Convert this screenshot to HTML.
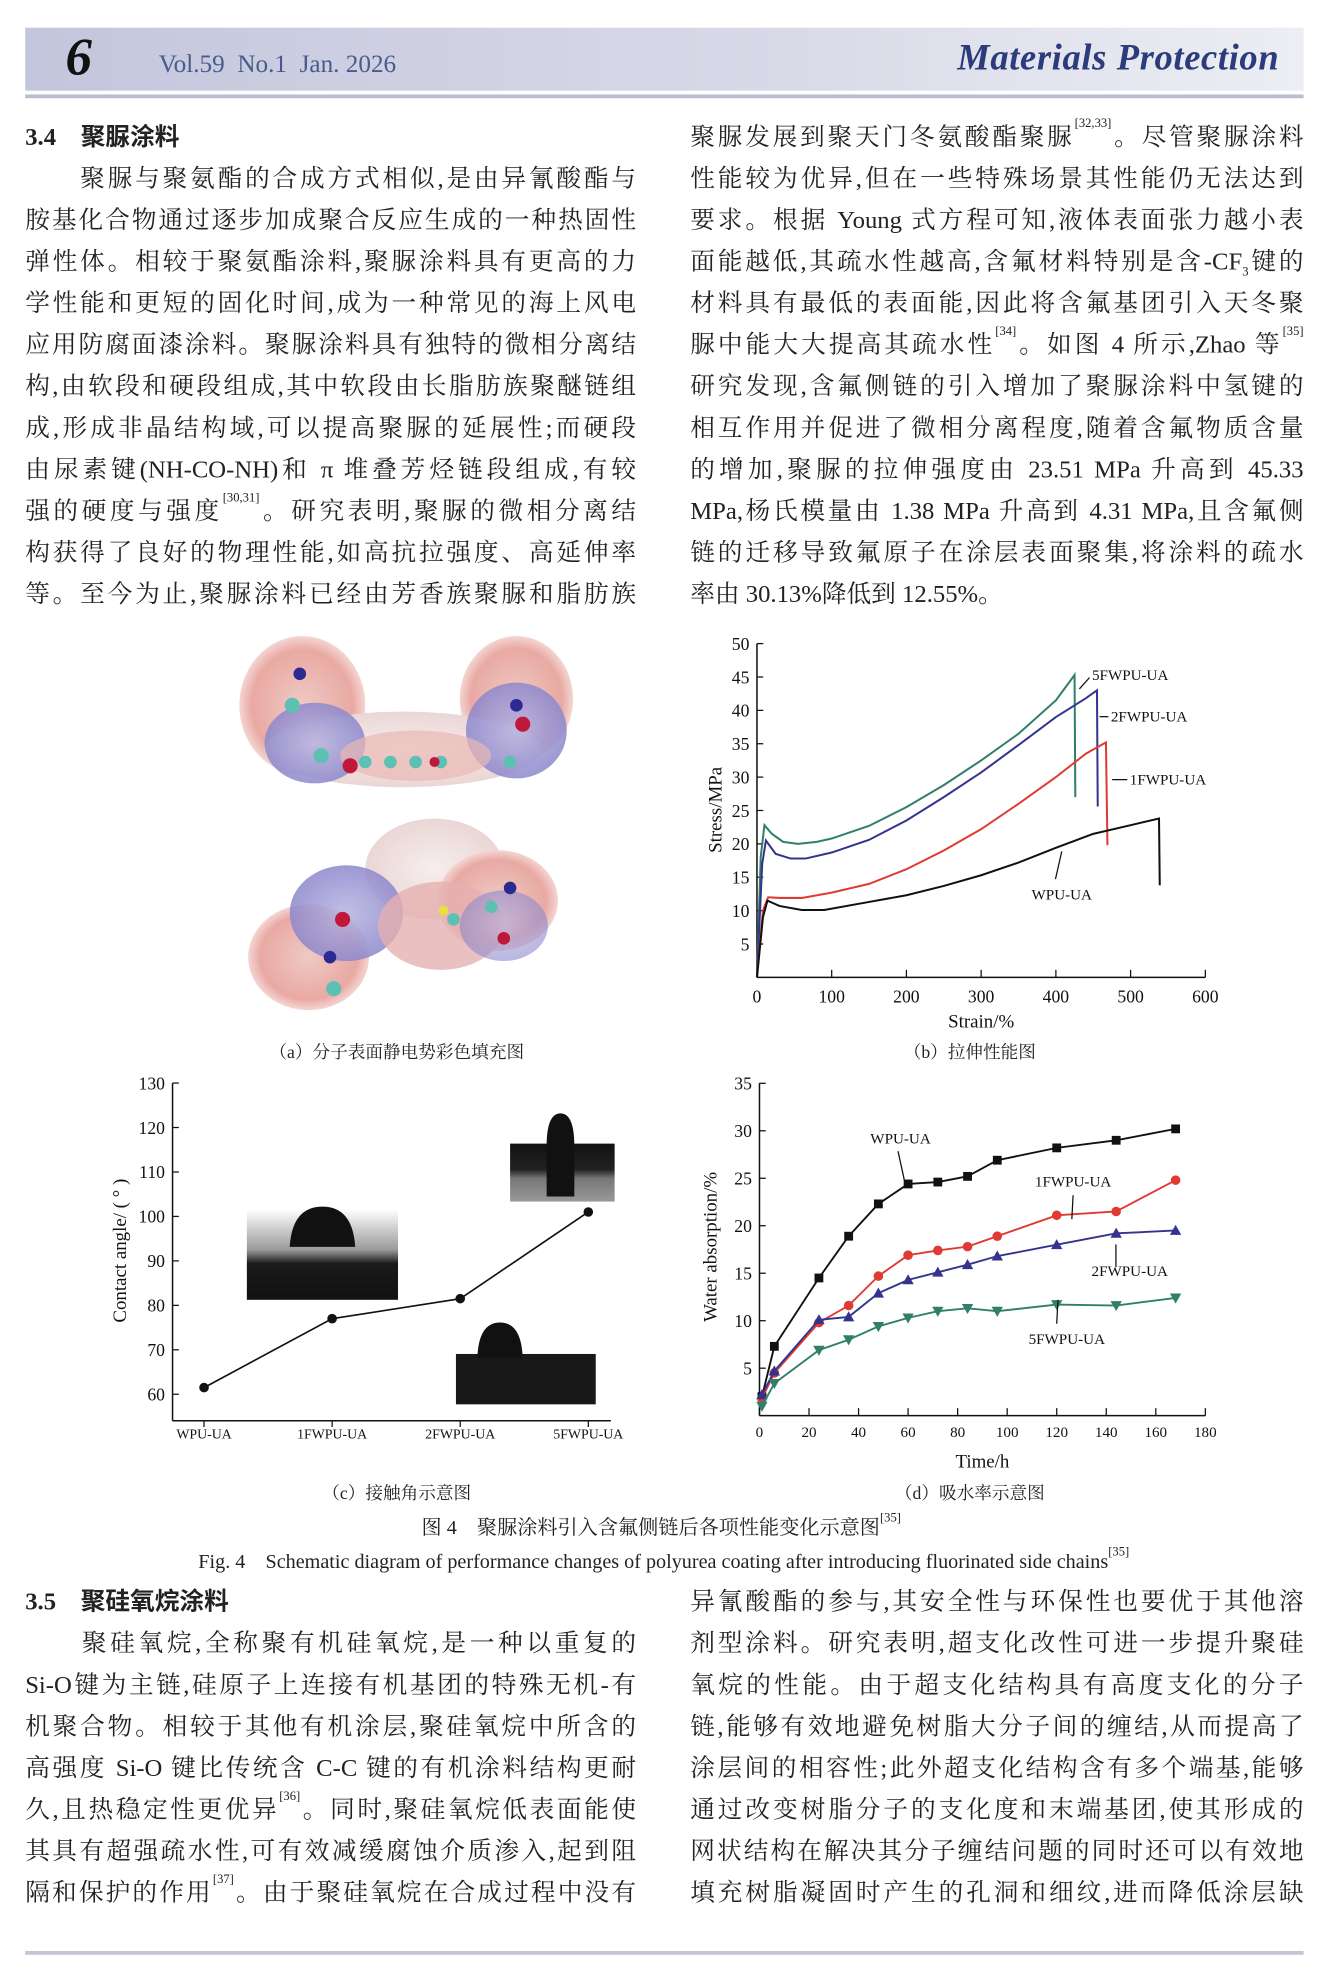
<!DOCTYPE html>
<html><head><meta charset="utf-8">
<style>
html,body{margin:0;padding:0;background:#fff;}
body{width:1325px;height:1970px;overflow:hidden;position:relative;}
#wrap{position:absolute;left:0;top:0;width:1052px;height:1564px;transform:scale(1.2595);transform-origin:0 0;font-family:"Liberation Serif","Noto Serif CJK SC",serif;color:#222;}
.col{position:absolute;font-size:19.6px;line-height:33px;}
.col div{white-space:nowrap;text-align:justify;text-align-last:justify;height:33px;overflow:visible;}
.col div.end{text-align-last:left;}
.h{font-weight:bold;font-family:"Liberation Serif","Noto Sans CJK SC",serif;}
sup{font-size:10px;line-height:0;vertical-align:top;position:relative;top:6px;}
.cap{position:absolute;font-size:14px;white-space:nowrap;transform:translateX(-50%);}
svg text{font-family:"Liberation Serif","Noto Serif CJK SC",serif;}
</style></head><body>
<div id="wrap">
<div style="position:absolute;left:20px;top:22px;width:1015px;height:50px;background:linear-gradient(90deg,#c3c6dc,#d9dae8 60%,#eceef4);"></div>
<div style="position:absolute;left:20px;top:75px;width:1015px;height:3px;background:#b9bcd2;"></div>
<div style="position:absolute;left:52px;top:22px;font-size:42px;font-weight:bold;font-style:italic;color:#111;">6</div>
<div style="position:absolute;left:126px;top:40px;font-size:20px;color:#4a5a8c;">Vol.59&nbsp; No.1&nbsp; Jan. 2026</div>
<div style="position:absolute;left:760px;top:30px;font-size:29px;font-style:italic;font-weight:bold;color:#2b3b7c;letter-spacing:0.5px;">Materials Protection</div>

<div class="col" style="left:20px;top:93px;width:485px;">
<div class="h end">3.4　聚脲涂料</div>
<div>　　聚脲与聚氨酯的合成方式相似,是由异氰酸酯与</div>
<div>胺基化合物通过逐步加成聚合反应生成的一种热固性</div>
<div>弹性体。相较于聚氨酯涂料,聚脲涂料具有更高的力</div>
<div>学性能和更短的固化时间,成为一种常见的海上风电</div>
<div>应用防腐面漆涂料。聚脲涂料具有独特的微相分离结</div>
<div>构,由软段和硬段组成,其中软段由长脂肪族聚醚链组</div>
<div>成,形成非晶结构域,可以提高聚脲的延展性;而硬段</div>
<div>由尿素键(NH-CO-NH)和 π 堆叠芳烃链段组成,有较</div>
<div>强的硬度与强度<sup>[30,31]</sup>。研究表明,聚脲的微相分离结</div>
<div>构获得了良好的物理性能,如高抗拉强度、高延伸率</div>
<div>等。至今为止,聚脲涂料已经由芳香族聚脲和脂肪族</div>
</div>
<div class="col" style="left:548px;top:93px;width:487px;">
<div>聚脲发展到聚天门冬氨酸酯聚脲<sup>[32,33]</sup>。尽管聚脲涂料</div>
<div>性能较为优异,但在一些特殊场景其性能仍无法达到</div>
<div>要求。根据 Young 式方程可知,液体表面张力越小表</div>
<div>面能越低,其疏水性越高,含氟材料特别是含-CF<sub style="font-size:10px;line-height:0">3</sub>键的</div>
<div>材料具有最低的表面能,因此将含氟基团引入天冬聚</div>
<div>脲中能大大提高其疏水性<sup>[34]</sup>。如图 4 所示,Zhao 等<sup>[35]</sup></div>
<div>研究发现,含氟侧链的引入增加了聚脲涂料中氢键的</div>
<div>相互作用并促进了微相分离程度,随着含氟物质含量</div>
<div>的增加,聚脲的拉伸强度由 23.51 MPa 升高到 45.33</div>
<div>MPa,杨氏模量由 1.38 MPa 升高到 4.31 MPa,且含氟侧</div>
<div>链的迁移导致氟原子在涂层表面聚集,将涂料的疏水</div>
<div class="end">率由 30.13%降低到 12.55%。</div>
</div>

<div class="col" style="left:20px;top:1256px;width:485px;">
<div class="h end">3.5　聚硅氧烷涂料</div>
<div>　　聚硅氧烷,全称聚有机硅氧烷,是一种以重复的</div>
<div>Si-O键为主链,硅原子上连接有机基团的特殊无机-有</div>
<div>机聚合物。相较于其他有机涂层,聚硅氧烷中所含的</div>
<div>高强度 Si-O 键比传统含 C-C 键的有机涂料结构更耐</div>
<div>久,且热稳定性更优异<sup>[36]</sup>。同时,聚硅氧烷低表面能使</div>
<div>其具有超强疏水性,可有效减缓腐蚀介质渗入,起到阻</div>
<div>隔和保护的作用<sup>[37]</sup>。由于聚硅氧烷在合成过程中没有</div>
</div>
<div class="col" style="left:548px;top:1256px;width:487px;">
<div>异氰酸酯的参与,其安全性与环保性也要优于其他溶</div>
<div>剂型涂料。研究表明,超支化改性可进一步提升聚硅</div>
<div>氧烷的性能。由于超支化结构具有高度支化的分子</div>
<div>链,能够有效地避免树脂大分子间的缠结,从而提高了</div>
<div>涂层间的相容性;此外超支化结构含有多个端基,能够</div>
<div>通过改变树脂分子的支化度和末端基团,使其形成的</div>
<div>网状结构在解决其分子缠结问题的同时还可以有效地</div>
<div>填充树脂凝固时产生的孔洞和细纹,进而降低涂层缺</div>
</div>
<div style="position:absolute;left:20px;top:1549px;width:1015px;height:3px;background:#c3c6d8;"></div>

<div class="cap" style="left:315px;top:825px;">（a）分子表面静电势彩色填充图</div>
<div class="cap" style="left:770px;top:825px;">（b）拉伸性能图</div>
<div class="cap" style="left:315px;top:1175px;">（c）接触角示意图</div>
<div class="cap" style="left:770px;top:1175px;">（d）吸水率示意图</div>
<div class="cap" style="left:525px;top:1200px;font-size:16px;">图 4　聚脲涂料引入含氟侧链后各项性能变化示意图<sup>[35]</sup></div>
<div class="cap" style="left:527px;top:1227px;font-size:16px;">Fig. 4　Schematic diagram of performance changes of polyurea coating after introducing fluorinated side chains<sup>[35]</sup></div>

<svg id="fig" width="1052" height="1564" style="position:absolute;left:0;top:0;" xmlns="http://www.w3.org/2000/svg">
<defs>
<radialGradient id="gp" cx="50%" cy="50%" r="50%"><stop offset="0" stop-color="#f0c9c4"/><stop offset="0.8" stop-color="#e9a9a3"/><stop offset="1" stop-color="#f4d5d2"/></radialGradient>
<radialGradient id="gb" cx="50%" cy="50%" r="50%"><stop offset="0" stop-color="#b7b3e0"/><stop offset="1" stop-color="#8c87cc"/></radialGradient>
<radialGradient id="gw" cx="50%" cy="50%" r="50%"><stop offset="0" stop-color="#f7eeee"/><stop offset="1" stop-color="#ead6d5"/></radialGradient>
<linearGradient id="drop1" x1="0" y1="0" x2="0" y2="1"><stop offset="0" stop-color="#fff"/><stop offset="0.45" stop-color="#999"/><stop offset="0.6" stop-color="#1a1a1a"/><stop offset="1" stop-color="#111"/></linearGradient>
<linearGradient id="drop2" x1="0" y1="0" x2="0" y2="1"><stop offset="0" stop-color="#111"/><stop offset="0.45" stop-color="#222"/><stop offset="0.6" stop-color="#777"/><stop offset="1" stop-color="#999"/></linearGradient>
</defs>
<g id="mol">
<ellipse cx="240" cy="560" rx="50" ry="55" fill="url(#gp)"/>
<ellipse cx="410" cy="555" rx="45" ry="50" fill="url(#gp)"/>
<ellipse cx="320" cy="595" rx="110" ry="30" fill="url(#gw)"/>
<ellipse cx="250" cy="590" rx="40" ry="32" fill="url(#gb)" opacity="0.85"/>
<ellipse cx="410" cy="580" rx="40" ry="38" fill="url(#gb)" opacity="0.85"/>
<ellipse cx="330" cy="600" rx="60" ry="20" fill="#eab8b3" opacity="0.7"/>
<ellipse cx="345" cy="690" rx="55" ry="40" fill="url(#gw)"/>
<ellipse cx="245" cy="760" rx="48" ry="42" fill="url(#gp)"/>
<ellipse cx="395" cy="715" rx="48" ry="40" fill="url(#gp)"/>
<ellipse cx="275" cy="725" rx="45" ry="38" fill="url(#gb)" opacity="0.85"/>
<ellipse cx="350" cy="735" rx="50" ry="35" fill="#e6b0b0" opacity="0.8"/>
<ellipse cx="400" cy="735" rx="35" ry="28" fill="url(#gb)" opacity="0.6"/>
<g fill="#5cc0b2"><circle cx="255" cy="600" r="6"/><circle cx="290" cy="605" r="5"/><circle cx="310" cy="605" r="5"/><circle cx="330" cy="605" r="5"/><circle cx="350" cy="605" r="5"/><circle cx="232" cy="560" r="6"/><circle cx="405" cy="605" r="5"/><circle cx="265" cy="785" r="6"/><circle cx="360" cy="730" r="5"/><circle cx="390" cy="720" r="5"/></g>
<g fill="#c0183a"><circle cx="278" cy="608" r="6"/><circle cx="345" cy="605" r="4"/><circle cx="415" cy="575" r="6"/><circle cx="272" cy="730" r="6"/><circle cx="400" cy="745" r="5"/></g>
<g fill="#2a2a90"><circle cx="238" cy="535" r="5"/><circle cx="410" cy="560" r="5"/><circle cx="262" cy="760" r="5"/><circle cx="405" cy="705" r="5"/></g>
<circle cx="352" cy="723" r="4" fill="#e8e040"/>
</g>
</svg>
</div>
<script>
// ---------- Chart b: stress-strain ----------
const strainTicks=[0,100,200,300,400,500,600];
const stressTicks=[5,10,15,20,25,30,35,40,45,50];
const seriesB_names=["5FWPU-UA","2FWPU-UA","1FWPU-UA","WPU-UA"];
const seriesB_colors=["#2f7f6a","#34348e","#e03a32","#111111"];
const b5_strain=[0,5,10,20,35,55,80,100,150,200,250,300,350,400,425,426];
const b5_stress=[0,18,22.8,21.5,20.3,20,20.3,20.8,22.7,25.5,28.8,32.5,36.5,41.5,45.3,27];
const b2_strain=[0,7,12,25,45,65,100,150,200,250,300,350,400,440,455,456];
const b2_stress=[0,17,20.5,18.5,17.8,17.8,18.7,20.6,23.5,27,30.7,34.8,39,41.8,43,25.6];
const b1_strain=[0,8,15,30,60,100,150,200,250,300,350,400,440,467,469];
const b1_stress=[0,10,12,11.9,11.9,12.7,14,16.2,19,22.2,26,30,33.5,35.2,19.8];
const bW_strain=[0,8,14,30,60,90,150,200,250,300,350,400,450,500,538,539];
const bW_stress=[0,9,11.5,10.7,10.1,10.1,11.3,12.3,13.7,15.3,17.2,19.4,21.5,22.8,23.8,13.8];
// ---------- Chart c: contact angle ----------
const catsC=["WPU-UA","1FWPU-UA","2FWPU-UA","5FWPU-UA"];
const angleC=[61.5,77,81.5,101];
const angleTicks=[60,70,80,90,100,110,120,130];
// ---------- Chart d: water absorption ----------
const timeD=[1,6,24,36,48,60,72,84,96,120,144,168];
const dWPU=[2,7.3,14.5,18.9,22.3,24.4,24.6,25.2,26.9,28.2,29,30.2];
const d1F=[1.8,4.5,9.8,11.6,14.7,16.9,17.4,17.8,18.9,21.1,21.5,24.8];
const d2F=[2.2,4.7,10.1,10.4,12.9,14.3,15.1,15.9,16.8,18,19.2,19.5];
const d5F=[1,3.4,6.9,8,9.4,10.3,11,11.3,11,11.7,11.6,12.4];
const timeTicks=[0,20,40,60,80,100,120,140,160,180];
const absTicks=[5,10,15,20,25,30,35];

const NS="http://www.w3.org/2000/svg";
const svg=document.getElementById('fig');
function mk(tag,attrs,parent,name){const e=document.createElementNS(NS,tag);for(const k in attrs)e.setAttribute(k,attrs[k]);(parent||svg).appendChild(e);


return e;}
function txt(x,y,s,size,anchor,parent,name,extra){const t=mk('text',Object.assign({x:x,y:y,'font-size':size,'text-anchor':anchor||'middle',fill:'#111'},extra||{}),parent,name);t.textContent=s;return t;}

// Chart b
const xb=s=>601+s*356/600, yb=v=>776-v*5.3;
const gB=mk('g',{},svg,'tensile-chart');
mk('line',{x1:601,y1:776,x2:957,y2:776,stroke:'#111','stroke-width':1.2},gB,'x-axis');
mk('line',{x1:601,y1:776,x2:601,y2:511,stroke:'#111','stroke-width':1.2},gB,'y-axis');
strainTicks.forEach(t=>{mk('line',{x1:xb(t),y1:776,x2:xb(t),y2:770,stroke:'#111'},gB,'x-tick');txt(xb(t),796,String(t),14,'middle',gB,'x-tick-label');});
stressTicks.forEach(t=>{mk('line',{x1:601,y1:yb(t),x2:606,y2:yb(t),stroke:'#111'},gB,'y-tick');txt(595,yb(t)+5,String(t),14,'end',gB,'y-tick-label');});
txt(779,816,'Strain/%',15,'middle',gB,'x-axis-title');
txt(0,0,'Stress/MPa',15,'middle',gB,'y-axis-title',{transform:'translate(573,643) rotate(-90)'});
[[b5_strain,b5_stress],[b2_strain,b2_stress],[b1_strain,b1_stress],[bW_strain,bW_stress]].forEach((d,i)=>{
 mk('polyline',{points:d[0].map((s,j)=>xb(s)+','+yb(d[1][j])).join(' '),fill:'none',stroke:seriesB_colors[i],'stroke-width':1.6},gB,'curve-'+seriesB_names[i].toLowerCase());});
mk('line',{x1:857,y1:547,x2:865,y2:538},gB,'leader-5f').setAttribute('stroke','#111');
txt(867,540,'5FWPU-UA',12,'start',gB,'label-5fwpu-ua');
mk('line',{x1:873,y1:569,x2:880,y2:569},gB,'leader-2f').setAttribute('stroke','#111');
txt(882,573,'2FWPU-UA',12,'start',gB,'label-2fwpu-ua');
mk('line',{x1:883,y1:619,x2:895,y2:619},gB,'leader-1f').setAttribute('stroke','#111');
txt(897,623,'1FWPU-UA',12,'start',gB,'label-1fwpu-ua');
mk('line',{x1:843,y1:676,x2:838,y2:698},gB,'leader-wpu').setAttribute('stroke','#111');
txt(843,714,'WPU-UA',12,'middle',gB,'label-wpu-ua');

// Chart c
const xc=i=>162+i*101.7, yc=v=>1107-(v-60)*3.53;
const gC=mk('g',{},svg,'contact-angle-chart');
// droplet images
const imgs=[[196,960,120,72,'url(#drop1)'],[405,908,83,46,'url(#drop2)'],[362,1075,111,40,'#181818']];
imgs.forEach((r,i)=>mk('rect',{x:r[0],y:r[1],width:r[2],height:r[3],fill:r[4]},gC,'droplet-photo-'+(i+1)));
mk('path',{d:'M230 990 Q232 958 256 958 Q280 958 282 990 Z',fill:'#111'},gC,'droplet-1');
mk('path',{d:'M434 910 Q434 884 445 884 Q456 884 456 910 L456 950 L434 950 Z',fill:'#111'},gC,'droplet-2');
mk('path',{d:'M379 1078 Q380 1050 397 1050 Q414 1050 415 1078 Z',fill:'#111'},gC,'droplet-3');
mk('line',{x1:137,y1:1128,x2:485,y2:1128,stroke:'#111','stroke-width':1.2},gC,'x-axis');
mk('line',{x1:137,y1:1128,x2:137,y2:860,stroke:'#111','stroke-width':1.2},gC,'y-axis');
angleTicks.forEach(t=>{mk('line',{x1:137,y1:yc(t),x2:142,y2:yc(t),stroke:'#111'},gC,'y-tick');txt(131,yc(t)+5,String(t),14,'end',gC,'y-tick-label');});
catsC.forEach((c,i)=>{mk('line',{x1:xc(i),y1:1128,x2:xc(i),y2:1133,stroke:'#111'},gC,'x-tick');txt(xc(i),1142,c,11,'middle',gC,'x-tick-label');});
txt(0,0,'Contact angle/ ( ° )',15,'middle',gC,'y-axis-title',{transform:'translate(100,993) rotate(-90)'});
mk('polyline',{points:angleC.map((v,i)=>xc(i)+','+yc(v)).join(' '),fill:'none',stroke:'#111','stroke-width':1.3},gC,'angle-line');
angleC.forEach((v,i)=>mk('circle',{cx:xc(i),cy:yc(v),r:3.8,fill:'#111'},gC,'angle-point'));

// Chart d
const xd=t=>603+t*354/180, yd=v=>1124-v*7.54;
const gD=mk('g',{},svg,'water-absorption-chart');
mk('line',{x1:603,y1:1124,x2:957,y2:1124,stroke:'#111','stroke-width':1.2},gD,'x-axis');
mk('line',{x1:603,y1:1124,x2:603,y2:860,stroke:'#111','stroke-width':1.2},gD,'y-axis');
timeTicks.forEach(t=>{mk('line',{x1:xd(t),y1:1124,x2:xd(t),y2:1118,stroke:'#111'},gD,'x-tick');txt(xd(t),1141,String(t),12,'middle',gD,'x-tick-label');});
absTicks.forEach(t=>{mk('line',{x1:603,y1:yd(t),x2:608,y2:yd(t),stroke:'#111'},gD,'y-tick');txt(597,yd(t)+5,String(t),14,'end',gD,'y-tick-label');});
txt(780,1165,'Time/h',15,'middle',gD,'x-axis-title');
txt(0,0,'Water absorption/%',15,'middle',gD,'y-axis-title',{transform:'translate(569,990) rotate(-90)'});
const dSeries=[[dWPU,'#111','sq','wpu-ua'],[d1F,'#e03a32','ci','1fwpu-ua'],[d2F,'#34348e','tu','2fwpu-ua'],[d5F,'#2f7f6a','td','5fwpu-ua']];
dSeries.forEach(s=>{
 mk('polyline',{points:timeD.map((t,j)=>xd(t)+','+yd(s[0][j])).join(' '),fill:'none',stroke:s[1],'stroke-width':1.5},gD,'line-'+s[3]);
 timeD.forEach((t,j)=>{const x=xd(t),y=yd(s[0][j]);let m;
  if(s[2]==='sq')m=mk('rect',{x:x-3.5,y:y-3.5,width:7,height:7,fill:s[1]},gD,'marker-'+s[3]);
  else if(s[2]==='ci')m=mk('circle',{cx:x,cy:y,r:3.8,fill:s[1]},gD,'marker-'+s[3]);
  else if(s[2]==='tu')m=mk('polygon',{points:(x)+','+(y-4.5)+' '+(x-4.5)+','+(y+3.5)+' '+(x+4.5)+','+(y+3.5),fill:s[1]},gD,'marker-'+s[3]);
  else m=mk('polygon',{points:(x)+','+(y+4.5)+' '+(x-4.5)+','+(y-3.5)+' '+(x+4.5)+','+(y-3.5),fill:s[1]},gD,'marker-'+s[3]);});
});
txt(715,908,'WPU-UA',12,'middle',gD,'label-wpu-ua');
mk('line',{x1:713,y1:914,x2:718,y2:937},gD,'leader-wpu').setAttribute('stroke','#111');
txt(852,942,'1FWPU-UA',12,'middle',gD,'label-1fwpu-ua');
mk('line',{x1:852,y1:949,x2:851,y2:968},gD,'leader-1f').setAttribute('stroke','#111');
txt(897,1013,'2FWPU-UA',12,'middle',gD,'label-2fwpu-ua');
mk('line',{x1:886,y1:988,x2:886,y2:1006},gD,'leader-2f').setAttribute('stroke','#111');
txt(847,1067,'5FWPU-UA',12,'middle',gD,'label-5fwpu-ua');
mk('line',{x1:840,y1:1032,x2:839,y2:1051},gD,'leader-5f').setAttribute('stroke','#111');
</script>
</body></html>
